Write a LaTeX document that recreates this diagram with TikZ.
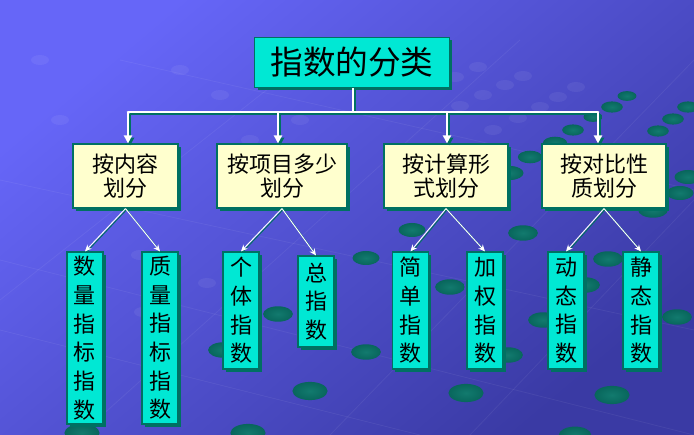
\documentclass[tikz,border=0pt]{standalone}
\usepackage{fontspec}
\newfontfamily\cjk{Noto Sans CJK SC}
\usetikzlibrary{arrows.meta,shadows}
\definecolor{bgtop}{RGB}{102,102,248}
\definecolor{bgbot}{RGB}{58,58,164}
\definecolor{tealdot}{RGB}{8,102,92}
\definecolor{tealdotin}{RGB}{18,122,110}
\definecolor{boxcyan}{RGB}{0,232,212}
\definecolor{boxyellow}{RGB}{255,255,206}
\definecolor{edgeteal}{RGB}{0,112,98}
\begin{document}
\begin{tikzpicture}[x=0.75pt,y=-0.75pt,
  tealshadow/.style={drop shadow={shadow xshift=2.2pt,shadow yshift=-2.2pt,fill=edgeteal,opacity=1}},
  titlebox/.style={draw=edgeteal,line width=0.9pt,fill=boxcyan,tealshadow,
    minimum width=146pt,minimum height=37.5pt,inner sep=0pt,
    font=\cjk\fontsize{24.5}{28}\selectfont},
  catbox/.style={draw=edgeteal,line width=0.9pt,fill=boxyellow,tealshadow,
    minimum height=48pt,inner sep=0pt,align=center,
    font=\cjk\fontsize{16.5}{18.5}\selectfont},
  leafbox/.style={draw=edgeteal,line width=0.9pt,fill=boxcyan,tealshadow,
    minimum width=27pt,inner sep=0pt,align=center,
    font=\cjk\fontsize{16.5}{21.5}\selectfont},
  busline/.style={draw=white,line width=2pt},
  busshade/.style={draw=edgeteal,line width=2pt,transform canvas={xshift=1.6pt,yshift=-1.6pt}},
  bustip/.style={-{Triangle[length=6pt,width=6pt]}},
  twig/.style={draw=white,line width=0.7pt,-{Stealth[length=5pt,width=4.5pt]}},
  twigshade/.style={draw=edgeteal,line width=0.7pt,transform canvas={xshift=0.8pt,yshift=-0.8pt}},
  dot/.style={inner color=tealdotin,outer color=tealdot},
  faintdot/.style={fill=white,opacity=0.06},
  gridline/.style={draw=white,opacity=0.06,line width=0.6pt}
]
% backdrop
\useasboundingbox (0,0) rectangle (694,435);
\shade[top color=bgtop,bottom color=bgbot,shading angle=40] (0,0) rectangle (694,435);

% faint perspective lattice
\draw[gridline] (0,180) -- (694,330);
\draw[gridline] (0,260) -- (694,435);
\draw[gridline] (120,60) -- (694,190);
\draw[gridline] (0,330) -- (420,435);
\draw[gridline] (694,60) -- (330,435);
\draw[gridline] (694,200) -- (470,435);
\draw[gridline] (520,40) -- (80,435);
\draw[gridline] (330,40) -- (0,300);

% faint light dots
\foreach \x/\y in {478/67,455/77,523/76,505/85,483/95,460/106,540/107,558/97,576/87,518/118,493/130,
  207/283,140/255,143/312,420/60,400/80,180/70,220/95,40/60,60/120,250/140,300/120}
  \fill[faintdot] (\x,\y) ellipse (9 and 5);

% dark teal dots
\foreach \x/\y/\r in {627/96/7,612/107/8,688/107/8,673/119/8,658/131/8,573/130/8,593/117/7,
  530/157/9,555/143/9,688/177/10,680/193/10,412/230/10,523/233/11,653/210/11,510/173/10,
  278/314/11,310/391/13,82/433/13,248/433/13,223/350/11,366/352/11,366/258/10,
  450/287/11,508/355/11,543/320/11,608/259/11,585/285/11,677/317/11,
  466/393/13,612/395/13,575/435/12}
  \shade[dot] (\x,\y) ellipse ({\r*1.35} and \r*0.7);

% title
\node[titlebox] (title) at (352,62.5) {指数的分类};

% second level
\node[catbox,minimum width=78.75pt] (cat1) at (125.5,176) {按内容\\划分};
\node[catbox,minimum width=97.5pt]  (cat2) at (282,176)   {按项目多少\\划分};
\node[catbox,minimum width=93pt]    (cat3) at (446,176)   {按计算形\\式划分};
\node[catbox,minimum width=93pt]    (cat4) at (604,176)   {按对比性\\质划分};

% third level
\node[leafbox,minimum height=129pt]  (l1) at (85,338)     {数\\量\\指\\标\\指\\数};
\node[leafbox,minimum height=129pt]  (l2) at (160,338)    {质\\量\\指\\标\\指\\数};
\node[leafbox,minimum height=87.75pt] (l3) at (241,310.5)  {个\\体\\指\\数};
\node[leafbox,minimum height=68.25pt] (l4) at (316,301.5)  {总\\指\\数};
\node[leafbox,minimum height=87.75pt] (l5) at (410.5,310.5) {简\\单\\指\\数};
\node[leafbox,minimum height=87.75pt] (l6) at (485,310.5)  {加\\权\\指\\数};
\node[leafbox,minimum height=87.75pt] (l7) at (566,310.5)  {动\\态\\指\\数};
\node[leafbox,minimum height=87.75pt] (l8) at (641,310.5)  {静\\态\\指\\数};

% bus junctions
\coordinate (busM) at (353,112);
\coordinate (bus1) at (128,112);
\coordinate (bus2) at (278,112);
\coordinate (bus3) at (447,112);
\coordinate (bus4) at (598,112);

% bus shadow
\draw[busshade] (title.south -| busM) -- (busM);
\draw[busshade] (bus1) -- (bus4);
\foreach \i in {1,2,3,4}
  \draw[busshade,bustip] (bus\i) -- (bus\i |- cat\i.north);
% bus
\draw[busline] (title.south -| busM) -- (busM);
\draw[busline,line cap=round] (bus1) -- (bus4);
\foreach \i in {1,2,3,4}
  \draw[busline,bustip] (bus\i) -- (bus\i |- cat\i.north);

% branches to the leaves
\foreach \c/\a/\b in {1/1/2,2/3/4,3/5/6,4/7/8}{
  \draw[twigshade] (cat\c.south) -- (l\a.north);
  \draw[twigshade] (cat\c.south) -- (l\b.north);
  \draw[twig] (cat\c.south) -- (l\a.north);
  \draw[twig] (cat\c.south) -- (l\b.north);
}
\end{tikzpicture}
\end{document}
